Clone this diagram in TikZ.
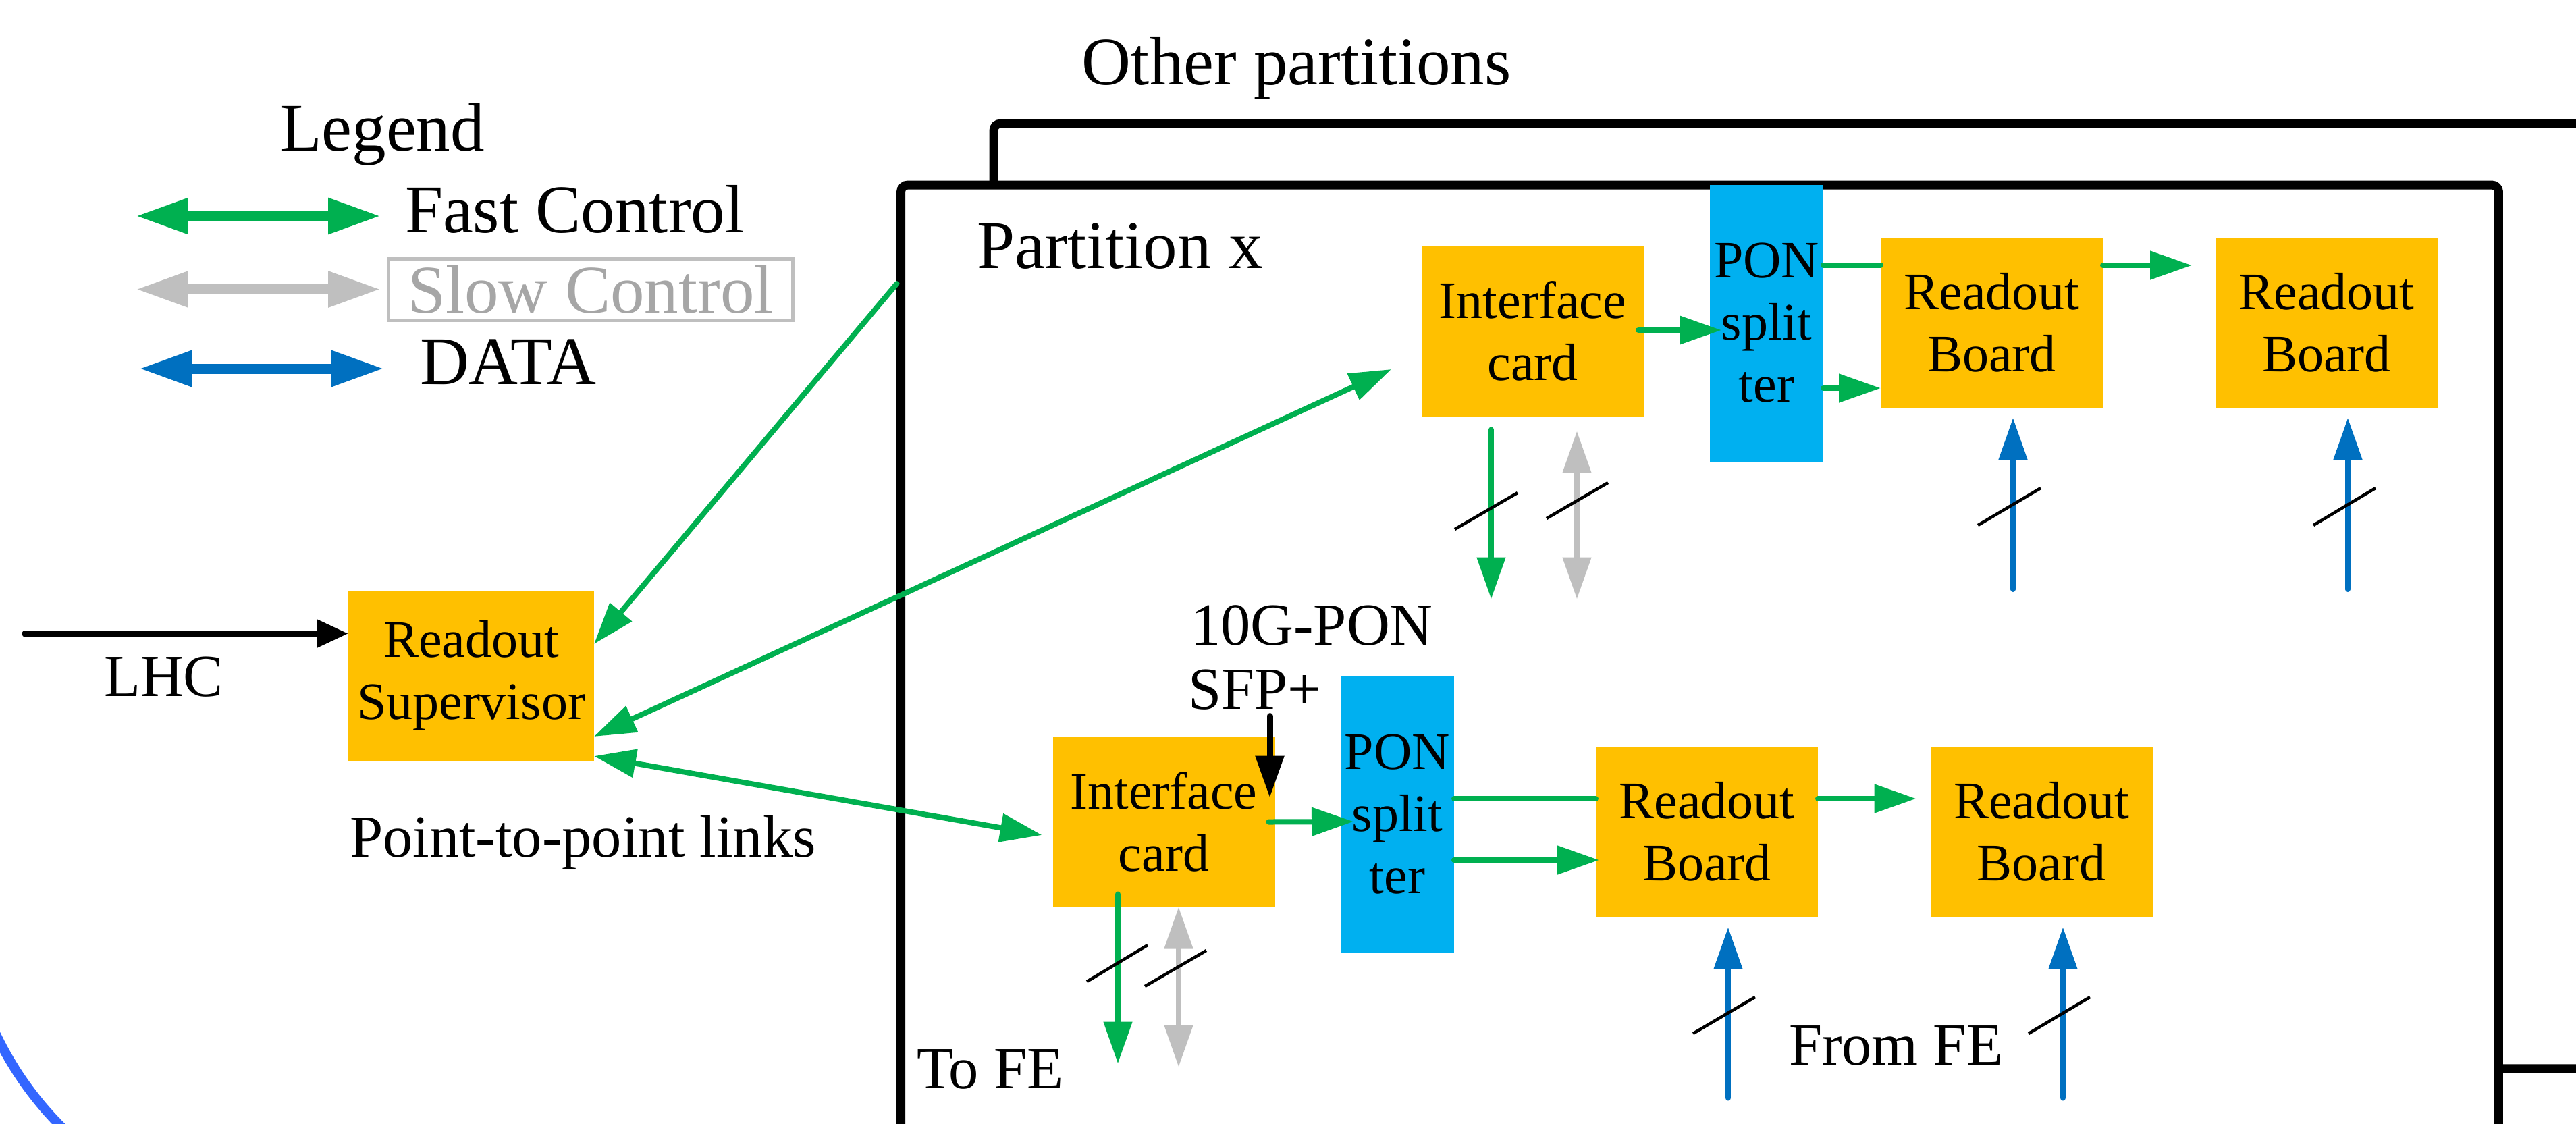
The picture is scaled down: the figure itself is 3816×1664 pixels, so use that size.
\documentclass[tikz,border=0pt]{standalone}
\usepackage{fontspec}
\setmainfont{Liberation Serif}
\usetikzlibrary{arrows.meta}

\definecolor{boxorange}{HTML}{FFC000}
\definecolor{ponblue}{HTML}{00B0F0}
\definecolor{fcgreen}{HTML}{00B050}
\definecolor{scgray}{HTML}{BFBFBF}
\definecolor{sctext}{HTML}{A6A6A6}
\definecolor{datablue}{HTML}{0070C0}
\definecolor{ringblue}{HTML}{3366FF}

\begin{document}
\begin{tikzpicture}[x=0.1pt,y=-0.1pt,
  >={Triangle[length=6.2pt,width=4.1pt]},
  card/.style={fill=boxorange, minimum width=32.9pt, minimum height=25.2pt,
    inner sep=0pt, outer sep=0pt, align=center,
    font=\fontsize{7.8}{9.2}\selectfont},
  splitter/.style={fill=ponblue, minimum width=16.8pt, minimum height=41pt,
    inner sep=0pt, outer sep=0pt, align=center,
    font=\fontsize{7.8}{9.2}\selectfont},
  bigtext/.style={anchor=base west, inner sep=0pt, outer sep=0pt,
    font=\fontsize{10.1}{12}\selectfont},
  midtext/.style={anchor=base west, inner sep=0pt, outer sep=0pt,
    font=\fontsize{8.85}{10.6}\selectfont},
  fast/.style={draw=fcgreen, line width=0.8pt, line cap=round},
  slow/.style={draw=scgray, line width=0.8pt, line cap=round},
  data/.style={draw=datablue, line width=0.8pt, line cap=round},
  plain/.style={draw=black, line width=0.9pt, line cap=round},
  bus/.style={draw=black, line width=0.45pt},
  frame/.style={draw=black, line width=1.3pt, rounded corners=1pt,
    inner sep=0pt, outer sep=0pt},
  legendarrow/.style={line width=1.5pt,
    arrows={Triangle[length=7.8pt,width=5pt]-Triangle[length=7.8pt,width=5pt]}}
]
\useasboundingbox (0,0) rectangle (3816,1664);
\clip (0,0) rectangle (3816,1664);

% ring segment in the lower left corner
\draw[ringblue, line width=1.4pt] (-25,1487) arc[start angle=160, end angle=110, radius=500];

% partition frames
\node[frame, minimum width=247.8pt, minimum height=140pt] (otherbox) at (2711,883) {};
\node[frame, fill=white, minimum width=236.7pt, minimum height=152.6pt] (partbox) at (2518,1037) {};

% titles and labels
\node[bigtext] (othertxt) at (1602,125) {Other partitions};
\node[bigtext] (parttxt) at (1447,397) {Partition x};
\node[midtext] (lhctxt) at (154,1031) {LHC};
\node[midtext] (p2ptxt) at (518,1269) {Point-to-point links};
\node[midtext] (pontxt) at (1764,955) {10G-PON};
\node[midtext] (sfptxt) at (1760,1050) {SFP+};
\node[midtext] (tofetxt) at (1358,1612) {To FE};
\node[midtext] (fromfetxt) at (2650,1577) {From FE};

% legend
\node[bigtext] (legendtxt) at (415,223) {Legend};
\coordinate (fcL) at (201,320);   \coordinate (fcR) at (564,320);
\coordinate (scL) at (201,428.5); \coordinate (scR) at (564,428.5);
\coordinate (dtL) at (206,546);   \coordinate (dtR) at (569,546);
\draw[legendarrow, draw=fcgreen, fill=fcgreen] (fcL) -- (fcR);
\draw[legendarrow, draw=scgray, fill=scgray] (scL) -- (scR);
\draw[legendarrow, draw=datablue, fill=datablue] (dtL) -- (dtR);
\node[bigtext] (fctxt) at (600,344) {Fast Control};
\node[draw=scgray, line width=0.5pt, minimum width=60pt, minimum height=9.1pt,
  inner sep=0pt, text=sctext, font=\fontsize{10.1}{12}\selectfont] (sctxt) at (875,428.5) {Slow Control};
\node[bigtext] (datatxt) at (622,569) {DATA};

% boards
\node[card, minimum width=36.4pt] (ros) at (698,1001) {Readout\\Supervisor};
\node[card] (ic1) at (2270.5,490.5) {Interface\\card};
\node[splitter] (pon1) at (2617,478.5) {PON\\split\\ter};
\node[card] (rb1) at (2950.5,478) {Readout\\Board};
\node[card] (rb2) at (3446.5,478) {Readout\\Board};
\node[card] (ic2) at (1724,1217.5) {Interface\\card};
\node[splitter] (pon2) at (2070,1206) {PON\\split\\ter};
\node[card] (rb3) at (2528.5,1231.5) {Readout\\Board};
\node[card] (rb4) at (3024,1231.5) {Readout\\Board};

% LHC clock input
\coordinate (lhcin) at (37.5,938.5);
\draw[plain, line width=1pt, -{Triangle[length=4.7pt,width=4pt]}] (lhcin) -- ([shift={(0,-62.5)}]ros.west);

% point-to-point links from the readout supervisor
\draw[fast, ->] ([shift={(-6,146)}]partbox.north west) -- ([shift={(0,-47)}]ros.east);
\draw[fast, <->] ([shift={(0,90)}]ros.east) -- ([shift={(-45,56.5)}]ic1.west);
\draw[fast, <->] ([shift={(0,119)}]ros.east) -- ([shift={(-16,19.5)}]ic2.west);

% upper chain
\draw[fast, ->] ([shift={(-8,-1.5)}]ic1.east) -- ([shift={(17,10.5)}]pon1.west);
\draw[fast] ([shift={(0,-85.5)}]pon1.east) -- ([shift={(0,-85)}]rb1.west);
\draw[fast, ->] ([shift={(0,96.5)}]pon1.east) -- ([shift={(0,97)}]rb1.west);
\draw[fast, ->] ([shift={(0,-85)}]rb1.east) -- ([shift={(-35,-85)}]rb2.west);
\coordinate (ic1fe) at ([shift={(-61.5,271)}]ic1.south);
\coordinate (ic1sc) at ([shift={(65.5,271)}]ic1.south);
\draw[fast, ->] ([shift={(-61.5,20)}]ic1.south) -- (ic1fe);
\draw[slow, <->] ([shift={(65.5,22)}]ic1.south) -- (ic1sc);
\coordinate (rb1fe) at ([shift={(31.5,269)}]rb1.south);
\coordinate (rb2fe) at ([shift={(31.5,269)}]rb2.south);
\draw[data, ->] (rb1fe) -- ([shift={(31.5,15)}]rb1.south);
\draw[data, ->] (rb2fe) -- ([shift={(31.5,15)}]rb2.south);

% lower chain
\coordinate (sfpin) at ([shift={(157,-31)}]ic2.north);
\draw[plain, ->] (sfpin) -- ([shift={(157,90)}]ic2.north);
\draw[fast, ->] ([shift={(-9,0)}]ic2.east) -- ([shift={(19,11)}]pon2.west);
\draw[fast] ([shift={(0,-23)}]pon2.east) -- ([shift={(0,-48.5)}]rb3.west);
\draw[fast, ->] ([shift={(0,68)}]pon2.east) -- ([shift={(5,42.5)}]rb3.west);
\draw[fast, ->] ([shift={(0,-48.5)}]rb3.east) -- ([shift={(-21,-48.5)}]rb4.west);
\coordinate (ic2fe) at ([shift={(-68,232)}]ic2.south);
\coordinate (ic2sc) at ([shift={(22,237)}]ic2.south);
\draw[fast, ->] ([shift={(-68,-19)}]ic2.south) -- (ic2fe);
\draw[slow, <->] ([shift={(22,0)}]ic2.south) -- (ic2sc);
\coordinate (rb3fe) at ([shift={(31.5,269)}]rb3.south);
\coordinate (rb4fe) at ([shift={(32,269)}]rb4.south);
\draw[data, ->] (rb3fe) -- ([shift={(31.5,16)}]rb3.south);
\draw[data, ->] (rb4fe) -- ([shift={(32,16)}]rb4.south);

% bus-width slashes
\draw[bus] (2155,784) -- (2248,730);
\draw[bus] (2291,768) -- (2382,715);
\draw[bus] (2930,778) -- (3023,723);
\draw[bus] (3427,778) -- (3519,723);
\draw[bus] (1610,1454) -- (1700,1400);
\draw[bus] (1696,1461) -- (1787,1408);
\draw[bus] (2508,1531) -- (2600,1477);
\draw[bus] (3005,1531) -- (3096,1477);
\end{tikzpicture}
\end{document}
